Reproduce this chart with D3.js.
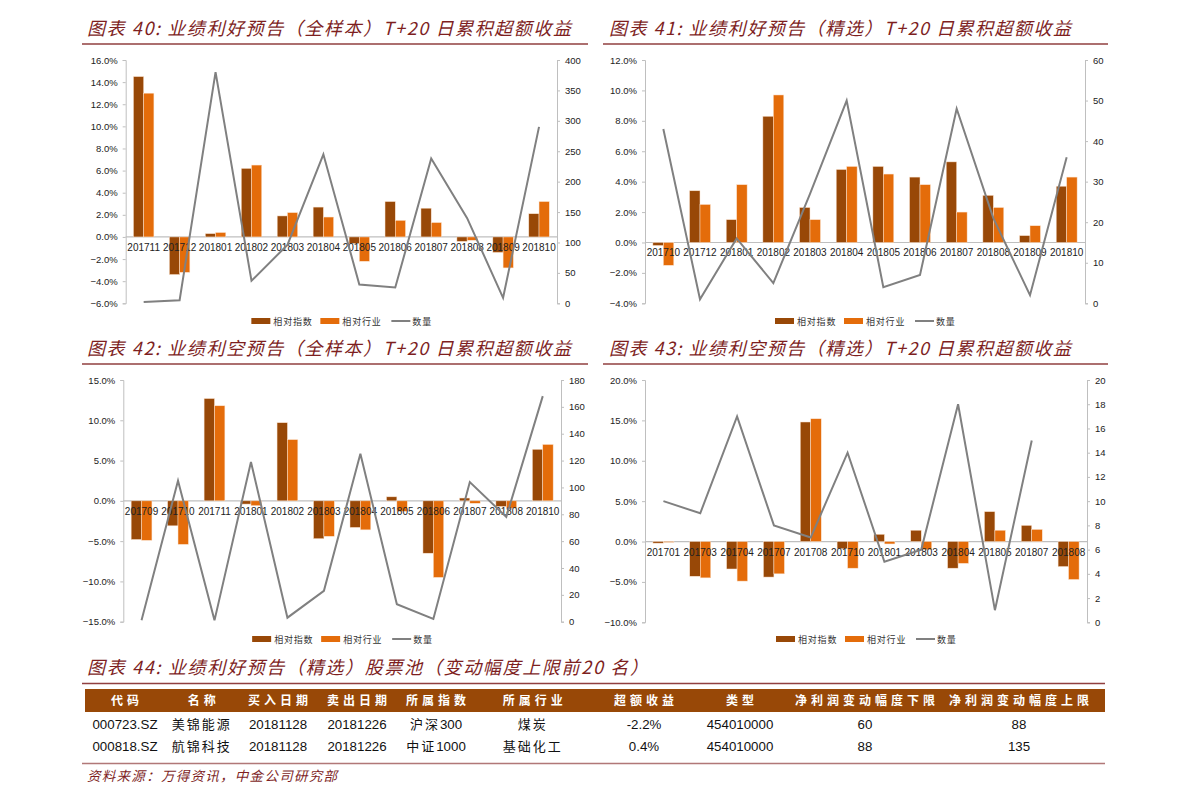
<!DOCTYPE html>
<html><head><meta charset="utf-8">
<script src="https://cdn.jsdelivr.net/npm/d3@7/dist/d3.min.js"></script>
<style>
html,body{margin:0;padding:0;background:#fff;}
svg{display:block;}
</style></head>
<body>
<svg id="c" width="1191" height="805"></svg>
<script>
// ---------- DATA ----------
const seriesNames = ["相对指数", "相对行业", "数量"];

const cats40 = ["201711","201712","201801","201802","201803","201804","201805","201806","201807","201808","201809","201810"];
const idx40  = [14.5, -3.4, 0.3, 6.2, 1.9, 2.7, -0.6, 3.2, 2.6, -0.4, -1.4, 2.1];
const ind40  = [13.0, -3.2, 0.4, 6.5, 2.2, 1.8, -2.2, 1.5, 1.3, -0.3, -2.8, 3.2];
const cnt40  = [2, 5, 380, 37, 96, 245, 31, 26, 238, 140, 9, 290];

const cats41 = ["201710","201712","201801","201802","201803","201804","201805","201806","201807","201808","201809","201810"];
const idx41  = [-0.2, 3.4, 1.5, 8.3, 2.3, 4.8, 5.0, 4.3, 5.3, 3.1, 0.45, 3.7];
const ind41  = [-1.5, 2.5, 3.8, 9.7, 1.5, 5.0, 4.5, 3.8, 2.0, 2.3, 1.1, 4.3];
const cnt41  = [43, 1, 16, 5, 27, 50, 4, 7, 48, 21, 2, 36];

const cats42 = ["201709","201710","201711","201801","201802","201803","201804","201805","201806","201807","201808","201810"];
const idx42  = [-4.8, -3.1, 12.7, -0.4, 9.7, -4.7, -3.3, 0.5, -6.5, 0.35, -0.7, 6.4];
const ind42  = [-4.9, -5.4, 11.8, -0.6, 7.6, -4.4, -3.6, -1.3, -9.5, -0.3, -0.9, 7.0];
const cnt42  = [1, 105, 1, 119, 3, 23, 125, 13, 2, 104, 78, 168];

const cats43 = ["201701","201703","201704","201707","201708","201710","201801","201803","201804","201805","201807","201808"];
const idx43  = [-0.2, -4.3, -3.4, -4.4, 14.8, -0.9, 0.9, 1.4, -3.3, 3.7, 2.0, -3.1];
const ind43  = [-0.1, -4.5, -4.9, -4.0, 15.2, -3.3, -0.3, -1.0, -2.7, 1.4, 1.5, -4.7];
const cnt43  = [10, 9, 17, 8, 7, 14, 5, 6, 18, 1, 15, null];

const leftTicks40 = [-6,-4,-2,0,2,4,6,8,10,12,14,16];
const rightTicks40 = [0,50,100,150,200,250,300,350,400];
const leftTicks41 = [-4,-2,0,2,4,6,8,10,12];
const rightTicks41 = [0,10,20,30,40,50,60];
const leftTicks42 = [-15,-10,-5,0,5,10,15];
const rightTicks42 = [0,20,40,60,80,100,120,140,160,180];
const leftTicks43 = [-10,-5,0,5,10,15,20];
const rightTicks43 = [0,2,4,6,8,10,12,14,16,18,20];

const titles = [
  "图表 40: 业绩利好预告（全样本）T+20 日累积超额收益",
  "图表 41: 业绩利好预告（精选）T+20 日累积超额收益",
  "图表 42: 业绩利空预告（全样本）T+20 日累积超额收益",
  "图表 43: 业绩利空预告（精选）T+20 日累积超额收益"
];
const tableTitle = "图表 44: 业绩利好预告（精选）股票池（变动幅度上限前20 名）";
const tableHeader = ["代码","名称","买入日期","卖出日期","所属指数","所属行业","超额收益","类型","净利润变动幅度下限","净利润变动幅度上限"];
const row1 = ["000723.SZ","美锦能源","20181128","20181226","沪深300","煤炭","-2.2%","454010000","60","88"];
const row2 = ["000818.SZ","航锦科技","20181128","20181226","中证1000","基础化工","0.4%","454010000","88","135"];
const sourceText = "资料来源：万得资讯，中金公司研究部";

// ---------- STYLE ----------
const C_IDX = "#984807", C_IND = "#E46C0A", C_CNT = "#808080";
const C_RED = "#7E1F1F", C_AXIS = "#BFBFBF";
const CJK = "'Noto Sans CJK SC','Noto Sans',sans-serif";
const LAT = "'Liberation Sans',Arial,sans-serif";

const svg = d3.select("#c");

function chart(cfg){
  const g = svg.append("g");
  const x = d3.scaleBand().domain(cfg.cats).range([cfg.x0, cfg.x1]).paddingInner(0.43).paddingOuter(0.215);
  const xs = d3.scaleBand().domain([0,1]).range([0, x.bandwidth()]);
  const yl = d3.scaleLinear().domain(d3.extent(cfg.lt)).range([cfg.yBot, cfg.yTop]);
  const yr = d3.scaleLinear().domain(d3.extent(cfg.rt)).range([cfg.yBot, cfg.yTop]);

  const ax = g.append("g").attr("transform",`translate(${cfg.x0},0)`)
    .call(d3.axisLeft(yl).tickValues(cfg.lt).tickSize(3).tickPadding(5).tickFormat(d=>d3.format(".1f")(d)+"%"));
  const ar = g.append("g").attr("transform",`translate(${cfg.x1},0)`)
    .call(d3.axisRight(yr).tickValues(cfg.rt).tickSize(3).tickPadding(5).tickFormat(d3.format("d")));
  [ax,ar].forEach(a=>{
    a.select(".domain").attr("stroke",C_AXIS).attr("stroke-width",1);
    a.selectAll(".tick line").attr("stroke",C_AXIS);
    a.selectAll("text").attr("font-family",LAT).attr("font-size","9.5px").attr("fill","#222");
  });

  g.append("line").attr("x1",cfg.x0).attr("x2",cfg.x1).attr("y1",yl(0)).attr("y2",yl(0))
    .attr("stroke",C_AXIS).attr("stroke-width",1.2);

  const series = [cfg.idx, cfg.ind];
  const cols = [C_IDX, C_IND];
  series.forEach((vals,si)=>{
    g.append("g").selectAll("rect").data(vals).join("rect")
      .attr("x",(d,i)=>x(cfg.cats[i])+xs(si))
      .attr("width",xs.bandwidth())
      .attr("y",d=>yl(Math.max(0,d)))
      .attr("height",d=>Math.abs(yl(d)-yl(0)))
      .attr("fill",cols[si])
      .attr("stroke","#fbe3d0").attr("stroke-width",0.5);
  });

  g.append("g").selectAll("text").data(cfg.cats).join("text")
    .attr("x",d=>x(d)+x.bandwidth()/2).attr("y",yl(0)+14)
    .attr("text-anchor","middle").attr("font-family",LAT).attr("font-size","10px").attr("fill","#222")
    .text(d=>d);

  const line = d3.line().defined(d=>d!=null)
    .x((d,i)=>x(cfg.cats[i])+x.bandwidth()/2).y(d=>yr(d));
  g.append("path").datum(cfg.cnt).attr("d",line)
    .attr("fill","none").attr("stroke",C_CNT).attr("stroke-width",2).attr("stroke-linejoin","miter");

  const cx = (cfg.x0+cfg.x1)/2;
  const lx = cx - 90;
  const lg = g.append("g").attr("transform",`translate(${lx},${cfg.legY})`);
  [[0,C_IDX],[69,C_IND]].forEach(([ox,c],i)=>{
    lg.append("rect").attr("x",ox).attr("y",-3).attr("width",19).attr("height",6).attr("fill",c);
    lg.append("text").attr("x",ox+22).attr("y",3.5).attr("font-family",CJK).attr("font-size","9px")
      .attr("letter-spacing","0.8px").attr("fill","#333").text(seriesNames[i]);
  });
  lg.append("line").attr("x1",140).attr("x2",159).attr("y1",0).attr("y2",0).attr("stroke",C_CNT).attr("stroke-width",2);
  lg.append("text").attr("x",161).attr("y",3.5).attr("font-family",CJK).attr("font-size","9px")
    .attr("letter-spacing","0.8px").attr("fill","#333").text(seriesNames[2]);
}

function title(txt, x, y, w, lx0, lx1, ly){
  svg.append("text").attr("x",x).attr("y",y).attr("font-family",CJK).attr("font-size","18px")
    .attr("font-weight","normal").attr("font-style","italic").attr("fill",C_RED)
    .attr("textLength",w).attr("lengthAdjust","spacing").text(txt);
  svg.append("line").attr("x1",lx0).attr("x2",lx1).attr("y1",ly).attr("y2",ly)
    .attr("stroke",C_RED).attr("stroke-width",1.5).attr("opacity",0.85);
}

title(titles[0], 87, 35, 484, 82, 588, 44);
title(titles[1], 609, 35, 462, 603, 1108, 44);
title(titles[2], 87, 355, 484, 82, 588, 364);
title(titles[3], 609, 355, 462, 603, 1108, 364);

chart({cats:cats40, idx:idx40, ind:ind40, cnt:cnt40, lt:leftTicks40, rt:rightTicks40,
  x0:125.7, x1:557, yTop:60, yBot:303.3, legY:321});
chart({cats:cats41, idx:idx41, ind:ind41, cnt:cnt41, lt:leftTicks41, rt:rightTicks41,
  x0:645, x1:1085, yTop:60, yBot:303.3, legY:321});
chart({cats:cats42, idx:idx42, ind:ind42, cnt:cnt42, lt:leftTicks42, rt:rightTicks42,
  x0:123.3, x1:561, yTop:380, yBot:621.7, legY:639});
chart({cats:cats43, idx:idx43, ind:ind43, cnt:cnt43, lt:leftTicks43, rt:rightTicks43,
  x0:645, x1:1087, yTop:380, yBot:622.3, legY:639});

// ---------- TABLE ----------
title(tableTitle, 87, 674, 561, 82, 1105, 683.5);
const colX = [125, 201.7, 278, 357, 436, 532.7, 644, 740, 865, 1019];
svg.append("rect").attr("x",85).attr("y",689).attr("width",1020).attr("height",23).attr("fill",C_IDX);
svg.append("g").selectAll("text").data(tableHeader).join("text")
  .attr("x",(d,i)=>colX[i]+2).attr("y",705).attr("text-anchor","middle")
  .attr("font-family",CJK).attr("font-size","12px").attr("font-weight","bold")
  .attr("letter-spacing","4px").attr("fill","#fff").text(d=>d);
const isCJKch = c => /[\u4e00-\u9fff]/.test(c);
[[row1,729],[row2,750.5]].forEach(([r,y])=>{
  r.forEach((d,i)=>{
    const t = svg.append("text").attr("x",colX[i]).attr("y",y).attr("text-anchor","middle")
      .attr("fill","#111");
    const runs = d.match(/[\u4e00-\u9fff]+|[^\u4e00-\u9fff]+/g);
    runs.forEach(run=>{
      const cj = isCJKch(run[0]);
      t.append("tspan").attr("font-family",cj?CJK:LAT).attr("font-size",cj?"13px":"13.3px")
        .attr("letter-spacing",cj?"2px":"0px").text(run);
    });
  });
});
svg.append("line").attr("x1",82).attr("x2",1105).attr("y1",763.5).attr("y2",763.5)
  .attr("stroke",C_RED).attr("stroke-width",1.5).attr("opacity",0.6);
svg.append("text").attr("x",87).attr("y",781).attr("font-family",CJK).attr("font-size","13.5px")
  .attr("font-weight","normal").attr("font-style","italic").attr("fill",C_RED)
  .attr("textLength",250).attr("lengthAdjust","spacing").text(sourceText);
</script>
</body></html>
